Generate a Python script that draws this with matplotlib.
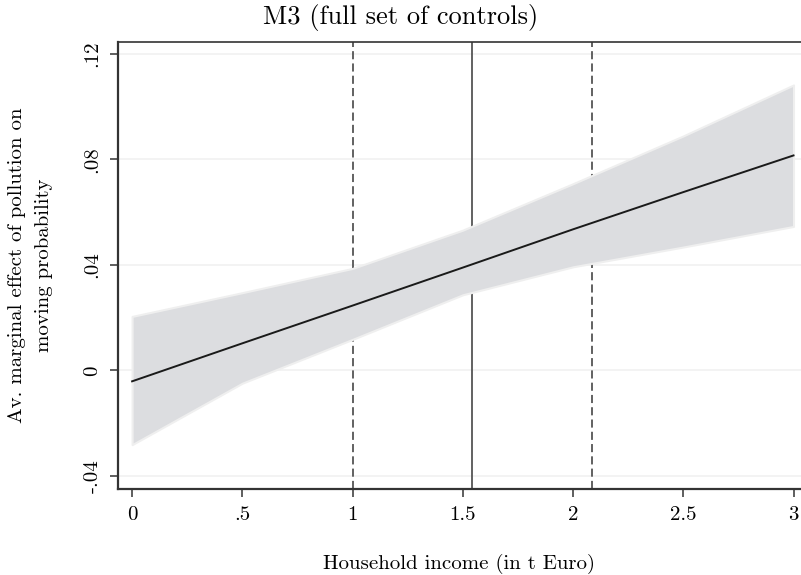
import matplotlib
matplotlib.use("Agg")
import matplotlib.pyplot as plt

# margins at income = 0(.5)3
income = [0, 0.5, 1, 1.5, 2, 2.5, 3]
effect = [-0.0041, 0.0103, 0.0246, 0.0390, 0.0535, 0.0676, 0.0815]
ci_upper = [0.0205, 0.0295, 0.0387, 0.0532, 0.0708, 0.0889, 0.1082]
ci_lower = [-0.0281, -0.0048, 0.0118, 0.0287, 0.0393, 0.0468, 0.0546]

# reference lines (mean, mean +/- sd)
mean_income = 1.542
sd_lines = [1.0, 2.086]

xticks = [0, 0.5, 1, 1.5, 2, 2.5, 3]
xticklabels = ["0", ".5", "1", "1.5", "2", "2.5", "3"]
yticks = [-0.04, 0, 0.04, 0.08, 0.12]
yticklabels = ["-.04", "0", ".04", ".08", ".12"]

plt.rcParams['font.family'] = ['cmr10', 'DejaVu Serif']

fig = plt.figure(figsize=(8.01, 5.75), dpi=100)
ax = fig.add_axes([0.1473, 0.1496, 0.8527, 0.7774])

for y in yticks:
    ax.axhline(y, color='#f1f1f1', lw=1.2, zorder=0)

for x in sd_lines:
    ax.axvline(x, color='#555555', lw=1.3, linestyle=(0, (4.5, 2.3)), zorder=1)
ax.axvline(mean_income, color='#555555', lw=1.3, zorder=1)

ax.fill_between(income, ci_lower, ci_upper, facecolor='#dcdde0',
                edgecolor='#efefef', lw=1.5, zorder=2)
ax.plot(income, effect, color='#1a1a1a', lw=1.4, zorder=3)

ax.set_xlim(-0.064, 3.034)
ax.set_ylim(-0.0449, 0.1245)

ax.set_xticks(xticks)
ax.set_xticklabels(xticklabels, fontsize=15)
ax.set_yticks(yticks)
ax.set_yticklabels(yticklabels, fontsize=15, rotation=90, va='center')

ax.tick_params(direction='out', length=6, width=1.1, color='#333333', pad=6)
ax.tick_params(axis='y', pad=6)

for s in ['left', 'bottom']:
    ax.spines[s].set_linewidth(1.6)
    ax.spines[s].set_color('#333333')
ax.spines['top'].set_linewidth(1.2)
ax.spines['top'].set_color('#333333')
ax.spines['right'].set_visible(False)

ax.set_xlabel('Household income (in t Euro)', fontsize=15, labelpad=22)
ax.set_ylabel('Av. marginal effect of pollution on\nmoving probability',
              fontsize=15, labelpad=22, linespacing=1.65)
fig.suptitle('M3 (full set of controls)', fontsize=19, y=0.993)

fig.savefig('out.png', dpi=100)
